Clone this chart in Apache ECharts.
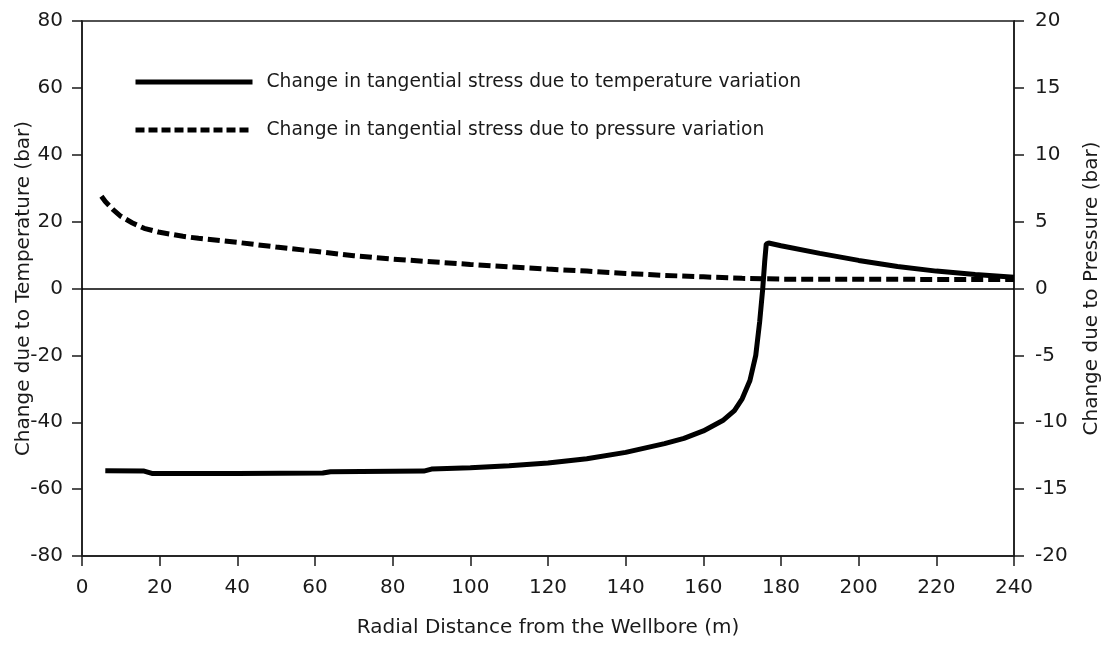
<!DOCTYPE html>
<html>
<head>
<meta charset="utf-8">
<script src="https://cdn.jsdelivr.net/npm/echarts@6/dist/echarts.min.js"></script>
<style>
  html, body { margin: 0; padding: 0; background: #fff; }
  #chart { width: 1110px; height: 646px; }
</style>
</head>
<body>
<div id="chart"></div>
<script>
// radial distance (m) and change in tangential stress, temperature part (bar, left axis)
const tempX = [6, 16, 18, 40, 62, 64, 88, 90, 100, 110, 120, 130, 140, 150, 155, 160, 165, 168, 170, 172, 173.5, 174.5, 175.3, 175.8, 176.2, 176.8, 180, 190, 200, 210, 220, 230, 240];
const tempY = [-54.5, -54.6, -55.3, -55.3, -55.2, -54.8, -54.6, -54.0, -53.6, -53.0, -52.2, -50.9, -49.0, -46.4, -44.8, -42.6, -39.5, -36.5, -33.0, -27.5, -20, -10, 0, 8, 13.3, 13.6, 12.8, 10.5, 8.4, 6.6, 5.2, 4.2, 3.4];

// pressure part (bar, right axis)
const presX = [5, 6, 8, 10, 13, 16, 20, 26, 30, 40, 50, 60, 70, 80, 90, 100, 110, 120, 130, 140, 150, 160, 170, 180, 200, 220, 240];
const presY = [6.9, 6.5, 5.9, 5.4, 4.9, 4.5, 4.2, 3.9, 3.75, 3.45, 3.1, 2.78, 2.45, 2.2, 2.0, 1.8, 1.62, 1.45, 1.3, 1.12, 0.98, 0.87, 0.76, 0.7, 0.69, 0.68, 0.68];

const tempName = "Change in tangential stress due to temperature variation";
const presName = "Change in tangential stress due to pressure variation";

const font = "DejaVu Sans";
const ink = "#1a1a1a";

const chart = echarts.init(document.getElementById("chart"));

const axisCommon = {
  axisLine: { show: true, onZero: false, lineStyle: { color: ink, width: 1.5 } },
  axisTick: { show: true, inside: false, length: 10, lineStyle: { color: ink, width: 1.5 } },
  splitLine: { show: false },
  nameMoveOverlap: false,
  nameTextStyle: { fontFamily: font, fontSize: 20, color: ink },
};

chart.setOption({
  animation: false,
  textStyle: { fontFamily: font },
  grid: {
    left: 82, right: 96, top: 21, bottom: 90,
    outerBoundsMode: "none",
    containLabel: false,
    show: true, borderColor: ink, borderWidth: 1.5,
  },
  legend: {
    left: 133, top: 72,
    padding: 0,
    orient: "vertical",
    itemWidth: 117, itemHeight: 20, itemGap: 28,
    textStyle: { fontFamily: font, fontSize: 18.7, color: ink, padding: [0, 0, 0, 9], lineHeight: 20 },
    lineStyle: { width: 5 },
    itemStyle: { opacity: 0 },
    data: [
      { name: tempName },
      { name: presName, lineStyle: { type: [9, 4], width: 5 } },
    ],
  },
  xAxis: {
    ...axisCommon,
    type: "value",
    min: 0, max: 240, interval: 20,
    name: "Radial Distance from the Wellbore (m)",
    nameLocation: "middle", nameGap: 62,
    axisLabel: { fontFamily: font, fontSize: 20, color: ink, margin: 22 },
  },
  yAxis: [
    {
      ...axisCommon,
      type: "value",
      position: "left",
      min: -80, max: 80, interval: 20,
      name: "Change due to Temperature (bar)",
      nameLocation: "middle", nameRotate: 90, nameGap: 48,
      axisLabel: { fontFamily: font, fontSize: 20, color: ink, margin: 19 },
    },
    {
      ...axisCommon,
      type: "value",
      position: "right",
      min: -20, max: 20, interval: 5,
      name: "Change due to Pressure (bar)",
      nameLocation: "middle", nameRotate: 90, nameGap: 68,
      axisLabel: { fontFamily: font, fontSize: 20, color: ink, margin: 21 },
    },
  ],
  series: [
    {
      name: tempName,
      type: "line",
      yAxisIndex: 0,
      symbol: "none",
      data: tempX.map((x, i) => [x, tempY[i]]),
      lineStyle: { color: "#000", width: 5 },
      itemStyle: { color: "#000" },
      z: 3,
      markLine: {
        silent: true,
        symbol: "none",
        label: { show: false },
        lineStyle: { color: "#000", width: 1.5, type: "solid" },
        data: [{ yAxis: 0 }],
        z: 1,
      },
    },
    {
      name: presName,
      type: "line",
      yAxisIndex: 1,
      symbol: "none",
      data: presX.map((x, i) => [x, presY[i]]),
      lineStyle: { color: "#000", width: 5, type: [12, 5] },
      itemStyle: { color: "#000" },
      z: 2,
    },
  ],
});
</script>
</body>
</html>
